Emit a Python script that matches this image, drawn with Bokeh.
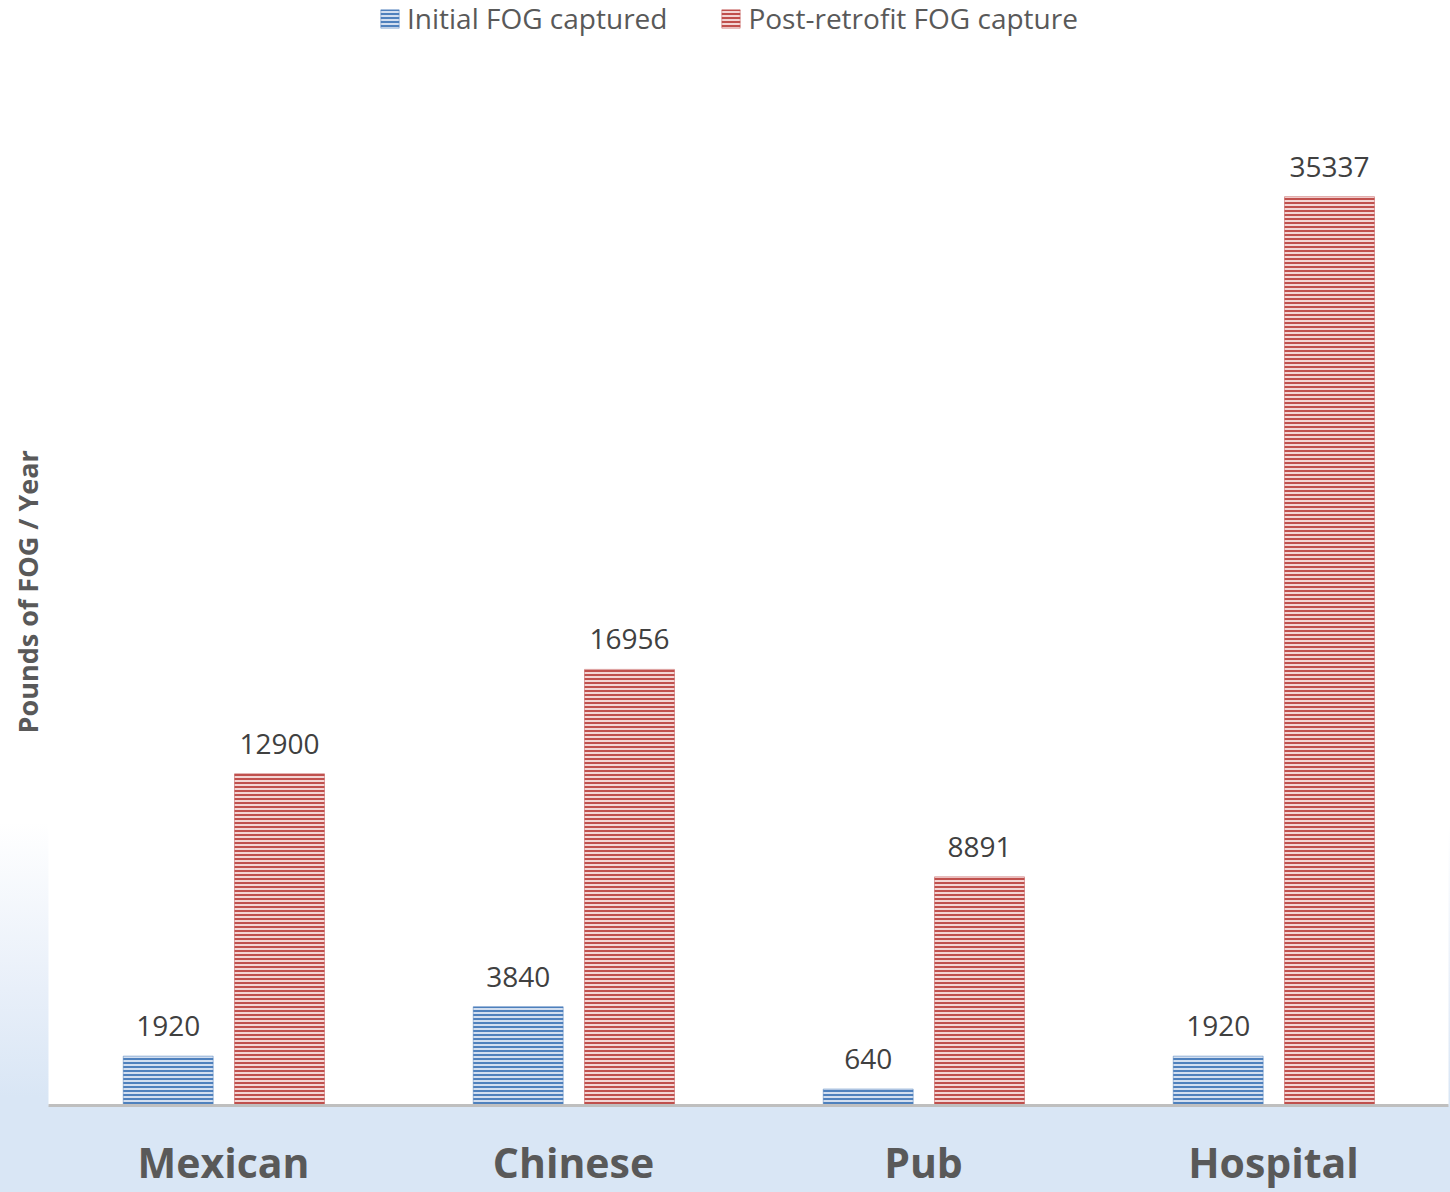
from bokeh.plotting import figure
from bokeh.models import ColumnDataSource, FactorRange, Range1d, LabelSet, Legend, LegendItem, Title
from bokeh.transform import dodge
from bokeh.core.properties import value
from bokeh.embed import file_html
from bokeh.resources import INLINE

categories = ["Mexican", "Chinese", "Pub", "Hospital"]
initial = [1920, 3840, 640, 1920]
post = [12900, 16956, 8891, 35337]
series = ["Initial FOG captured", "Post-retrofit FOG capture"]
y_title = "Pounds of FOG / Year"

src = ColumnDataSource(dict(
    cat=categories, initial=initial, post=post,
    ilab=[str(v) for v in initial], plab=[str(v) for v in post],
))

FONT = "Open Sans"

p = figure(width=1450, height=1192,
           x_range=FactorRange(factors=categories, range_padding=0),
           y_range=Range1d(0, 42964),
           output_backend="svg", toolbar_location=None,
           min_border_left=48, min_border_right=2, min_border_top=0, min_border_bottom=87)
p.styles = {"background": "linear-gradient(to bottom, #ffffff 0%, #ffffff 69%, #e8eff9 83%, #d9e6f5 92%, #d9e6f5 100%)"}
p.border_fill_color = None
p.background_fill_color = "white"
p.outline_line_color = None
p.xgrid.grid_line_color = None
p.ygrid.grid_line_color = None

W = 0.257
r1 = p.vbar(x=dodge("cat", -0.158, range=p.x_range), top="initial", width=W, source=src,
            fill_color="#d3dff0", hatch_pattern="horizontal_line", hatch_color="#4f81bd",
            hatch_scale=4, hatch_weight=2, line_color="#4f81bd", line_alpha=0.5, line_width=1)
r2 = p.vbar(x=dodge("cat", 0.16, range=p.x_range), top="post", width=W, source=src,
            fill_color="#f3d6d5", hatch_pattern="horizontal_line", hatch_color="#c0504d",
            hatch_scale=4, hatch_weight=2, line_color="#c0504d", line_alpha=0.5, line_width=1)

for xoff, fld in ((-0.158, "initial"), (0.16, "post")):
    lab = LabelSet(x=dodge("cat", xoff, range=p.x_range), y=fld,
                   text="ilab" if fld == "initial" else "plab", source=src,
                   text_align="center", text_baseline="alphabetic", y_offset=20,
                   text_font=value(FONT), text_font_size="28px", text_color="#404040")
    p.add_layout(lab)

# axes
p.xaxis.axis_line_color = "#bfbfbf"
p.xaxis.axis_line_width = 3
p.xaxis.major_tick_line_color = None
p.xaxis.minor_tick_line_color = None
p.xaxis.major_tick_out = 0
p.xaxis.major_tick_in = 0
p.xaxis.major_label_standoff = 28
p.xaxis.major_label_text_font = FONT
p.xaxis.major_label_text_font_style = "bold"
p.xaxis.major_label_text_font_size = "41px"
p.xaxis.major_label_text_color = "#595959"

p.yaxis.visible = False

ytitle = Title(text=y_title, align="left", offset=372, standoff=6,
               text_font=FONT, text_font_style="bold", text_font_size="27px",
               text_color="#595959")
p.add_layout(ytitle, "left")

legend = Legend(items=[LegendItem(label=series[0], renderers=[r1]),
                       LegendItem(label=series[1], renderers=[r2])],
                orientation="horizontal", location=(330, 1068),
                glyph_width=23, glyph_height=23, label_standoff=6, spacing=52,
                padding=2, margin=0,
                label_text_font=FONT, label_text_font_size="28px", label_text_color="#595959",
                background_fill_alpha=0, border_line_color=None)
p.add_layout(legend)

open("out.html", "w").write(file_html(p, INLINE))
